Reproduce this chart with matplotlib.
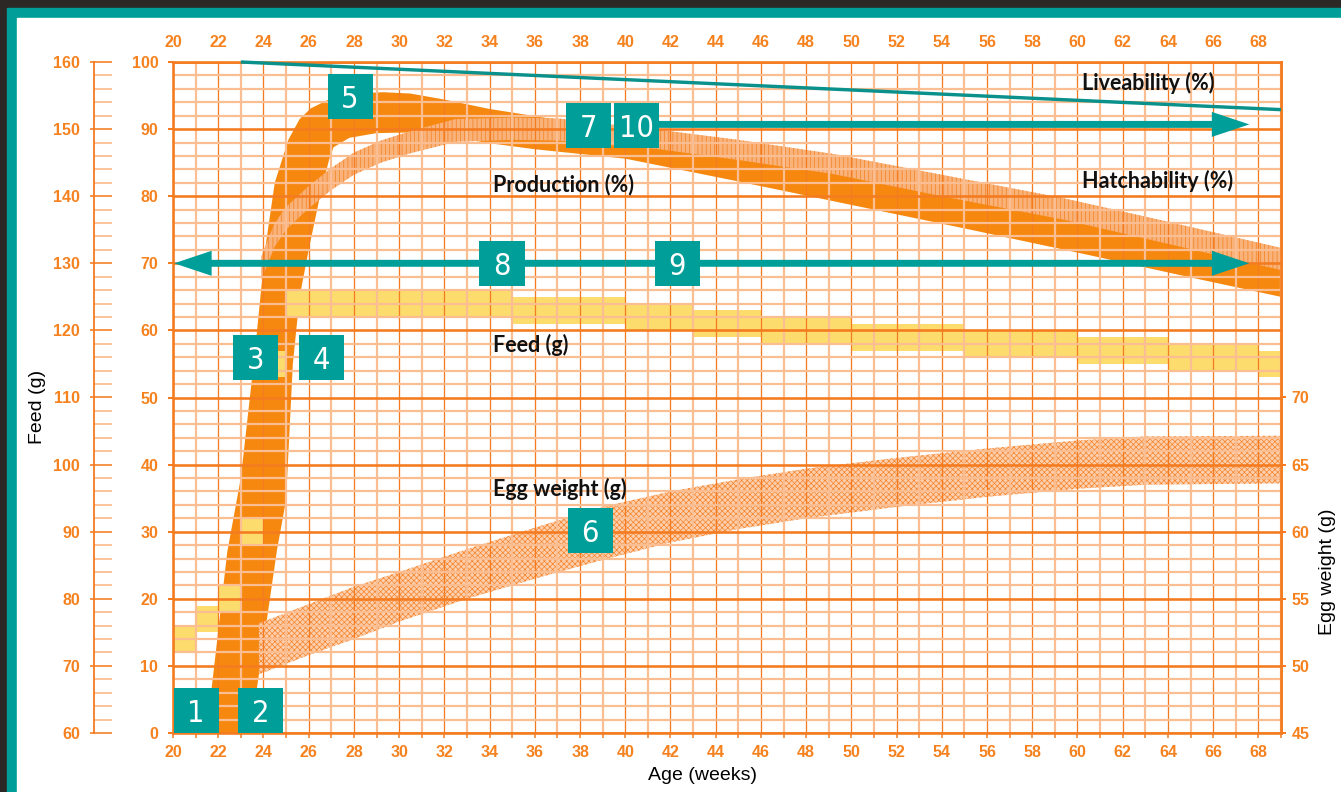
import matplotlib
matplotlib.use("Agg")
import matplotlib.pyplot as plt
import numpy as np
from matplotlib.patches import Rectangle
from matplotlib.ticker import FixedLocator
import matplotlib.transforms as mtransforms

# ---------------- data ----------------
# Production (%) band: upper and lower curves
prod_up_wk = [21.45, 21.7, 22.4, 23.0, 23.6, 24.07, 24.5, 25.1, 25.6, 26.1, 27.0, 28.0, 29.3, 30.5, 32, 34, 37, 40, 45, 49.3, 55, 60, 65, 69]
prod_up_pct = [0, 6.4, 27, 38, 56, 72, 82, 88.4, 91.5, 93.1, 94.6, 95.3, 95.5, 95.3, 94.4, 93.0, 91.4, 89.8, 87.1, 84.6, 81.0, 77.5, 73.5, 70.0]
prod_lo_wk = [22.9, 23.7, 24.6, 25.0, 25.3, 25.6, 26.0, 26.5, 26.9, 27.1, 27.8, 29.0, 30.5, 32, 34, 36, 40, 45, 50, 55, 60, 65, 69]
prod_lo_pct = [0, 6.4, 27.3, 34.7, 55, 65, 72, 80, 85.4, 87.3, 88.7, 89.4, 89.5, 89.0, 87.9, 87.0, 85.6, 82.2, 78.7, 75.2, 71.6, 67.9, 65.0]

# Hatchability (%) band
hatch_wk = [23.9, 24.5, 25, 26, 27, 28, 29.2, 30.5, 32.5, 35, 37, 41.5, 45, 49.2, 54, 59.4, 64, 69]
hatch_top = [71, 76, 78.4, 81.5, 84.2, 86.5, 88.3, 89.7, 91.5, 91.7, 91.6, 89.9, 88.4, 86.3, 83.2, 79.7, 76.2, 72.3]
hatch_bot = [67.5, 72.5, 75, 78.2, 80.9, 83.2, 85.0, 86.4, 88.1, 88.4, 88.3, 87.0, 85.4, 83.3, 80.0, 76.5, 72.9, 69.0]

# Egg weight (g) band
egg_wk = [23.8, 24, 26, 28, 30, 33, 36, 39, 42, 45, 48, 52, 56, 60, 63, 69]
egg_top = [53.2, 53.3, 54.6, 55.9, 57.0, 58.7, 60.3, 61.85, 63.0, 63.9, 64.7, 65.5, 66.2, 66.8, 67.1, 67.15]
egg_bot = [49.4, 49.5, 50.8, 52.0, 53.3, 55.0, 56.5, 57.9, 59.2, 60.2, 61.0, 61.85, 62.6, 63.2, 63.5, 63.6]

# Feed (g) steps
feed_start = [20, 21, 22, 23, 24, 25, 35, 40, 43, 46, 50, 55, 60, 64, 68]
feed_end = [21, 22, 23, 24, 25, 35, 40, 43, 46, 50, 55, 60, 64, 68, 69]
feed_low = [72, 75, 78, 88, 113, 122, 121, 120, 119, 118, 117, 116, 115, 114, 113]
feed_high = [76, 79, 82, 92, 117, 126, 125, 124, 123, 122, 121, 120, 119, 118, 117]

# Liveability (%)
live_wk = [23, 69]
live_pct = [100, 92.9]

# Numbered markers (week, %)
marker_labels = ["1", "2", "3", "4", "5", "6", "7", "10", "8", "9"]
marker_wk = [21.02, 23.89, 23.67, 26.55, 27.83, 38.45, 38.36, 40.49, 34.55, 42.3]
marker_pct = [3.3, 3.4, 55.9, 55.9, 94.9, 30.25, 90.6, 90.6, 70.0, 70.0]

# Arrows (week from, week to, level %)
arrow_from = [40.6, 40.0, 40.0]
arrow_to = [67.6, 67.6, 20.05]
arrow_level = [90.7, 70.0, 70.0]

# Curve labels
curve_text = ["Liveability (%)", "Production (%)", "Hatchability (%)", "Feed (g)", "Egg weight (g)"]
curve_text_wk = [60.22, 34.16, 60.22, 34.16, 34.16]
curve_text_pct = [96.9, 81.8, 82.3, 57.8, 36.4]

x_ticks = list(range(20, 69, 2))
pct_ticks = list(range(0, 101, 10))
feed_ticks = list(range(60, 161, 10))
egg_ticks = list(range(45, 71, 5))

# ---------------- style ----------------
W, H, DPI = 1341, 792, 100
ORANGE = "#F47B20"
LIGHT = "#FBBE93"
BAND = "#F6880F"
YELLOW = "#FDDC6E"
TEAL = "#009E98"
TICKC = "#F5821F"
PX = 72.0 / DPI  # points per pixel

plt.rcParams["hatch.linewidth"] = 0.5
plt.rcParams["font.family"] = ["Liberation Sans", "DejaVu Sans"]

fig = plt.figure(figsize=(W / DPI, H / DPI), dpi=DPI, facecolor="#2B2826")
fig.patches.append(Rectangle((7 / W, 0), 1, (H - 8) / H, transform=fig.transFigure, color=TEAL, zorder=-10))
fig.patches.append(Rectangle((17 / W, 0), 1, (H - 18) / H, transform=fig.transFigure, color="white", zorder=-9))

L, R, T, B = 173, 1281, 62, 733
ax = fig.add_axes([L / W, (H - B) / H, (R - L) / W, (B - T) / H])
ax.set_facecolor("white")
ax.set_xlim(20, 69)
ax.set_ylim(0, 100)

# transforms: feed g -> %, egg g -> %
feed_tr = mtransforms.Affine2D().translate(0, -60) + ax.transData
egg_tr = mtransforms.Affine2D().translate(0, -45).scale(1, 2) + ax.transData

# grid
ax.xaxis.set_major_locator(FixedLocator(x_ticks))
ax.xaxis.set_minor_locator(FixedLocator(list(range(21, 70, 2))))
ax.yaxis.set_major_locator(FixedLocator(pct_ticks))
ax.yaxis.set_minor_locator(FixedLocator([v for v in range(2, 100, 2) if v % 10]))
ax.grid(which="major", axis="x", color=ORANGE, lw=1.3 * PX)
ax.grid(which="minor", axis="x", color=LIGHT, lw=2.2 * PX)
ax.grid(which="major", axis="y", color=ORANGE, lw=2.6 * PX)
ax.grid(which="minor", axis="y", color=LIGHT, lw=2.2 * PX)
ax.set_axisbelow(False)
for sp in ax.spines.values():
    sp.set_color(ORANGE)
    sp.set_linewidth(2.6 * PX)
    sp.set_zorder(3)

ax.set_xticklabels([str(t) for t in x_ticks])
ax.tick_params(axis="x", which="both", direction="out", length=5 * PX, width=1.5 * PX, color=ORANGE,
               top=False, labeltop=True, labelbottom=True, labelcolor=TICKC, labelsize=11.5, pad=5)
ax.tick_params(axis="x", which="minor", labelbottom=False, labeltop=False)
ax.tick_params(axis="y", which="major", direction="out", length=5 * PX, width=2 * PX, color=ORANGE,
               labelcolor=TICKC, labelsize=11.5, pad=7)
ax.tick_params(axis="y", which="minor", length=0)
for lab in ax.get_xticklabels() + ax.get_yticklabels():
    lab.set_fontweight("bold")
for tk in ax.xaxis.get_major_ticks():
    tk.label2.set_fontweight("bold")

# production band
poly_x = np.concatenate([prod_up_wk, prod_lo_wk[::-1]])
poly_y = np.concatenate([prod_up_pct, prod_lo_pct[::-1]])
ax.fill(poly_x, poly_y, color=BAND, lw=0, zorder=1.2)

# feed bars
for s, e, lo, hi in zip(feed_start, feed_end, feed_low, feed_high):
    ax.add_patch(Rectangle((s, lo), e - s, hi - lo, transform=feed_tr, facecolor=YELLOW, lw=0, zorder=1.3))

# hatchability band
ax.fill_between(hatch_wk, hatch_bot, hatch_top, facecolor="#F9B27A", edgecolor="#F2801F",
                hatch="||||", lw=0, zorder=1.5)

# egg weight band
ax.fill_between(egg_wk, egg_bot, egg_top, transform=egg_tr, facecolor="#FCCFAE", edgecolor="#F5842A",
                hatch="xxxxxx", lw=0, zorder=1.5)

# liveability
ax.plot(live_wk, live_pct, color="#0A918C", lw=3.4 * PX, zorder=4, solid_capstyle="butt", clip_on=False)

# arrows
for x0, x1, yv in zip(arrow_from, arrow_to, arrow_level):
    ax.annotate("", xy=(x1, yv), xytext=(x0, yv),
                arrowprops=dict(arrowstyle="simple,head_length=2.7,head_width=1.8,tail_width=0.5",
                                mutation_scale=10, color=TEAL, lw=0, shrinkA=0, shrinkB=0), zorder=6)

# numbered boxes
bw, bh = 45 / 22.6, 45 / 6.71
for lab, xw, yp in zip(marker_labels, marker_wk, marker_pct):
    ax.add_patch(Rectangle((xw - bw / 2, yp - bh / 2), bw, bh, facecolor=TEAL, lw=0, zorder=7, clip_on=False))
    ax.text(xw, yp, lab, color="white", fontsize=22, ha="center", va="center_baseline", zorder=8,
            family="DejaVu Sans", fontstretch="condensed")

# curve texts
for t, xw, yp in zip(curve_text, curve_text_wk, curve_text_pct):
    ax.text(xw, yp, t, fontsize=15.5, fontweight="bold", color="#111111", ha="left", va="center",
            family=["Lato", "DejaVu Sans"], zorder=8)

# right egg-weight axis
sec = ax.secondary_yaxis("right", functions=(lambda p: 45 + p / 2.0, lambda g: (g - 45) * 2.0))
sec.set_yticks(egg_ticks)
sec.tick_params(direction="out", length=5 * PX, width=2 * PX, color=ORANGE, labelcolor=TICKC,
                labelsize=11.5, pad=4)
sec.spines["right"].set_color(ORANGE)
sec.spines["right"].set_linewidth(2.6 * PX)
for lab in sec.get_yticklabels():
    lab.set_fontweight("bold")
fig.text(1327 / W, 1 - 572 / H, "Egg weight (g)", rotation=90, ha="center", va="center", fontsize=14)

# feed axis
axf = fig.add_axes([94 / W, (H - B) / H, 0.02, (B - T) / H])
axf.set_ylim(60, 160)
axf.set_xlim(0, 1)
for k in ["top", "right", "bottom"]:
    axf.spines[k].set_visible(False)
axf.spines["left"].set_color(ORANGE)
axf.spines["left"].set_linewidth(1.8 * PX)
axf.patch.set_alpha(0)
axf.set_xticks([])
axf.yaxis.set_major_locator(FixedLocator(feed_ticks))
axf.yaxis.set_minor_locator(FixedLocator([v for v in range(62, 160, 2) if v % 10]))
axf.tick_params(axis="y", which="major", direction="in", length=18 * PX, width=1.6 * PX, color=ORANGE,
                labelcolor=TICKC, labelsize=11.5, pad=14 * PX)
axf.tick_params(axis="y", which="minor", direction="in", length=18 * PX, width=1.8 * PX, color=LIGHT)
for lab in axf.get_yticklabels():
    lab.set_fontweight("bold")
axf2 = fig.add_axes([94 / W, (H - B) / H, 0.02, (B - T) / H])
axf2.set_ylim(60, 160)
for k in axf2.spines:
    axf2.spines[k].set_visible(False)
axf2.patch.set_alpha(0)
axf2.set_xticks([])
axf2.yaxis.set_major_locator(FixedLocator(feed_ticks))
axf2.tick_params(axis="y", direction="out", length=4 * PX, width=1.6 * PX, color=ORANGE, labelleft=False)
fig.text(37 / W, 1 - 407 / H, "Feed (g)", rotation=90, ha="center", va="center", fontsize=14)

fig.text(702 / W, 1 - 776 / H, "Age (weeks)", ha="center", va="center", fontsize=14)

fig.savefig("out.png", dpi=DPI, facecolor=fig.get_facecolor())
